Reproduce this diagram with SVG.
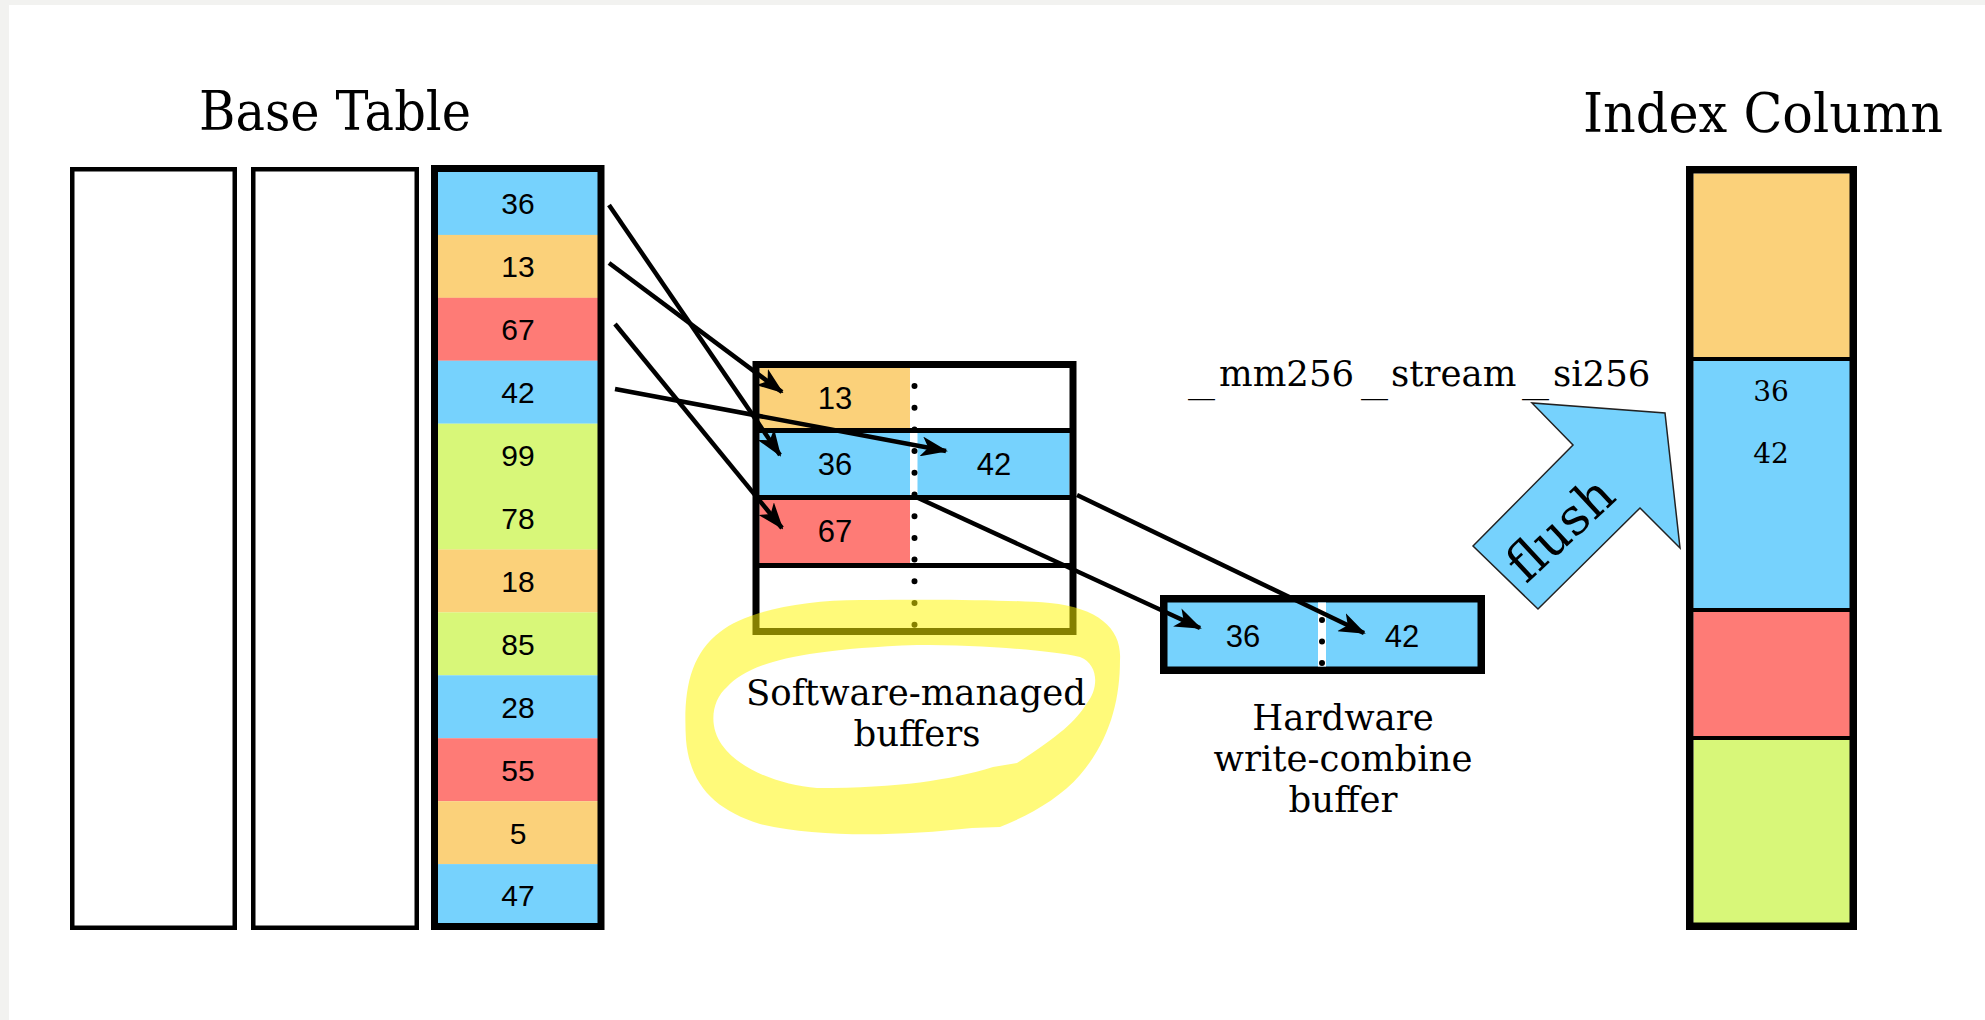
<svg xmlns="http://www.w3.org/2000/svg" width="1985" height="1020" viewBox="0 0 1985 1020">
<defs>
<style>
.num{font-family:"Liberation Sans",Arial,sans-serif;font-size:30px;text-anchor:middle;fill:#000}
.num2{font-family:"Liberation Sans",Arial,sans-serif;font-size:31px;text-anchor:middle;fill:#000}
.lbl{font-family:"DejaVu Serif",serif;font-size:35.5px;text-anchor:middle;fill:#000}
.ttl{font-family:"DejaVu Serif",serif;font-size:54px;text-anchor:middle;fill:#000}
.blue{fill:#76d2fd}.orange{fill:#fbd17a}.red{fill:#fe7b76}.green{fill:#d8f779}
.dots{stroke:#000;stroke-width:6;stroke-linecap:round;stroke-dasharray:0 21.7;fill:none}
</style>
<marker id="ah" viewBox="0 0 27 20" refX="25" refY="10" markerWidth="27" markerHeight="20" markerUnits="userSpaceOnUse" orient="auto">
<path d="M0,0 L27,10 L0,20 L7,10 Z" fill="#000"/>
</marker>
</defs>
<rect x="0" y="0" width="1985" height="1020" fill="#fff"/>
<rect x="0" y="0" width="1985" height="5" fill="#f2f2f0"/>
<rect x="0" y="0" width="9" height="1020" fill="#f2f2f0"/>

<g id="base-table">
<text class="ttl" x="335" y="130" textLength="272" lengthAdjust="spacingAndGlyphs">Base Table</text>
<rect x="72.25" y="169.25" width="162.5" height="758.5" fill="#fff" stroke="#000" stroke-width="4.5"/>
<rect x="253.25" y="169.25" width="163.5" height="758.5" fill="#fff" stroke="#000" stroke-width="4.5"/>
<g id="base-key-column">
<rect class="blue" x="438" y="172" width="160" height="63"/>
<rect class="orange" x="438" y="234.9" width="160" height="63"/>
<rect class="red" x="438" y="297.8" width="160" height="63"/>
<rect class="blue" x="438" y="360.75" width="160" height="63"/>
<rect class="green" x="438" y="423.7" width="160" height="126"/>
<rect class="orange" x="438" y="549.5" width="160" height="63"/>
<rect class="green" x="438" y="612.4" width="160" height="63"/>
<rect class="blue" x="438" y="675.3" width="160" height="63"/>
<rect class="red" x="438" y="738.25" width="160" height="63"/>
<rect class="orange" x="438" y="801.2" width="160" height="63"/>
<rect class="blue" x="438" y="864.1" width="160" height="63"/>
<rect x="434.5" y="168.5" width="166.5" height="758" fill="none" stroke="#000" stroke-width="7"/>
<text class="num" x="518" y="214">36</text>
<text class="num" x="518" y="277">13</text>
<text class="num" x="518" y="340">67</text>
<text class="num" x="518" y="403">42</text>
<text class="num" x="518" y="466">99</text>
<text class="num" x="518" y="529">78</text>
<text class="num" x="518" y="592">18</text>
<text class="num" x="518" y="655">85</text>
<text class="num" x="518" y="718">28</text>
<text class="num" x="518" y="781">55</text>
<text class="num" x="518" y="844">5</text>
<text class="num" x="518" y="906">47</text>
</g>
</g>

<g id="software-buffers">
<rect x="756" y="364.5" width="317" height="267" fill="#fff"/>
<rect class="orange" x="759.5" y="368" width="150.5" height="61"/>
<rect class="blue" x="759.5" y="432" width="150.5" height="64"/>
<rect class="blue" x="917.5" y="432" width="152" height="64"/>
<rect class="red" x="759.5" y="499" width="150.5" height="65"/>
<rect x="756" y="364.5" width="317" height="267" fill="none" stroke="#000" stroke-width="7"/>
<line x1="756" y1="430.5" x2="1073" y2="430.5" stroke="#000" stroke-width="5"/>
<line x1="756" y1="497.5" x2="1073" y2="497.5" stroke="#000" stroke-width="5"/>
<line x1="756" y1="565.5" x2="1073" y2="565.5" stroke="#000" stroke-width="5"/>
<line class="dots" x1="914.5" y1="386" x2="914.5" y2="626"/>
<text class="num2" x="835" y="409">13</text>
<text class="num2" x="835" y="475">36</text>
<text class="num2" x="994" y="475">42</text>
<text class="num2" x="835" y="542">67</text>
<text class="lbl" x="916" y="705">Software-managed</text>
<text class="lbl" x="917" y="746">buffers</text>
</g>

<g id="hw-buffer">
<rect class="blue" x="1163.75" y="598.75" width="317.5" height="71.5" stroke="#000" stroke-width="7.5"/>
<rect x="1318" y="602.5" width="8" height="64" fill="#fff"/>
<line class="dots" x1="1322" y1="620" x2="1322" y2="664" style="stroke-dasharray:0 21.5"/>
<text class="num2" x="1243" y="647">36</text>
<text class="num2" x="1402" y="647">42</text>
<text class="lbl" x="1343" y="730">Hardware</text>
<text class="lbl" x="1343" y="771">write-combine</text>
<text class="lbl" x="1343" y="812">buffer</text>
</g>

<g id="stream-label">
<text class="lbl" style="text-anchor:start"><tspan x="1188" y="392" textLength="27" lengthAdjust="spacingAndGlyphs">_</tspan><tspan x="1219" y="386">mm256</tspan><tspan x="1361" y="392" textLength="27" lengthAdjust="spacingAndGlyphs">_</tspan><tspan x="1391" y="386">stream</tspan><tspan x="1522" y="392" textLength="27" lengthAdjust="spacingAndGlyphs">_</tspan><tspan x="1553" y="386">si256</tspan></text>
</g>

<g id="flush-arrow">
<polygon points="1473,546 1573,445 1532,403 1665,413 1680,548 1640,508 1538,609" fill="#76d2fd" stroke="#222" stroke-width="1.5" stroke-linejoin="miter"/>
<text class="lbl" style="font-size:51px" transform="translate(1561,530) rotate(-43)" x="0" y="16">flush</text>
</g>

<g id="index-column">
<text class="ttl" x="1763" y="132" textLength="360" lengthAdjust="spacingAndGlyphs">Index Column</text>
<rect class="orange" x="1693.5" y="173.5" width="156.5" height="186"/>
<rect class="blue" x="1693.5" y="359" width="156.5" height="251"/>
<rect class="red" x="1693.5" y="610" width="156.5" height="128"/>
<rect class="green" x="1693.5" y="738" width="156.5" height="188"/>
<line x1="1690" y1="359" x2="1854" y2="359" stroke="#000" stroke-width="4"/>
<line x1="1690" y1="610" x2="1854" y2="610" stroke="#000" stroke-width="4"/>
<line x1="1690" y1="738" x2="1854" y2="738" stroke="#000" stroke-width="4"/>
<rect x="1689.75" y="169.75" width="163.5" height="756.5" fill="none" stroke="#000" stroke-width="7.5"/>
<text class="lbl" style="font-size:28px" x="1771" y="401">36</text>
<text class="lbl" style="font-size:28px" x="1771" y="463">42</text>
</g>

<g id="connectors" stroke="#000" stroke-width="4.5" fill="none">
<line x1="609" y1="205" x2="780" y2="455" marker-end="url(#ah)"/>
<line x1="609" y1="263" x2="782" y2="392" marker-end="url(#ah)"/>
<line x1="615" y1="324" x2="782" y2="528" marker-end="url(#ah)"/>
<line x1="615" y1="389" x2="946" y2="451" marker-end="url(#ah)"/>
<line x1="916" y1="497" x2="1200" y2="628" marker-end="url(#ah)"/>
<line x1="1077" y1="495" x2="1364" y2="633" marker-end="url(#ah)"/>
</g>

<g id="highlight">
<path fill="#fff500" fill-opacity="0.52" fill-rule="evenodd" d="M1050 603 C1100 608 1122 630 1120 660 C1120 700 1110 740 1080 775 C1060 798 1030 815 1000 827 L972 828 C900 836 820 838 760 824 C715 810 690 785 686 740 C683 690 690 655 720 632 C745 612 800 600 860 600 C950 599 1010 600 1050 603 Z M917 645 C980 645 1050 650 1080 657 C1100 665 1098 690 1087 703 C1075 722 1060 735 1017 763 L993 767 C950 780 900 788 817 788 C780 785 740 770 722 745 C708 725 712 700 727 687 C745 668 780 650 917 645 Z"/>
</g>
</svg>
